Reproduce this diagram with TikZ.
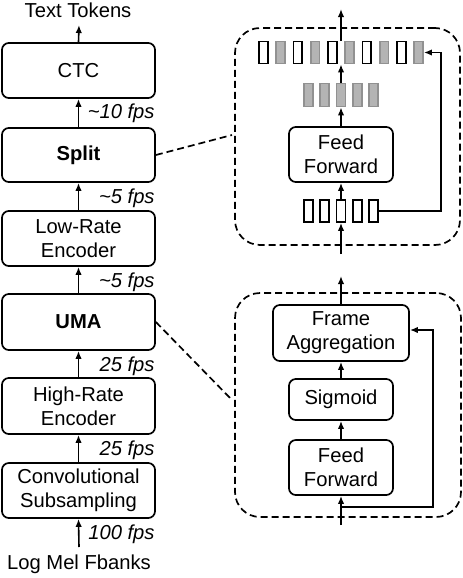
\documentclass[tikz,border=0pt]{standalone}
\usepackage{fontspec}
\setmainfont{Liberation Sans}
\usetikzlibrary{arrows.meta}
\definecolor{tokfill}{RGB}{180,180,180}
\definecolor{tokdraw}{RGB}{145,145,145}
\begin{document}
\begin{tikzpicture}[x=0.5pt,y=-0.5pt,
  every node/.style={font=\fontsize{10.1}{12}\selectfont},
  box/.style={draw, line width=0.85pt, rounded corners=3.4pt, align=center, inner sep=0pt},
  lbl/.style={anchor=east, inner sep=0pt, font=\fontsize{10.1}{12}\selectfont\itshape},
  panel/.style={draw, line width=0.85pt, dash pattern=on 3.5pt off 2pt, rounded corners=12.5pt, inner sep=0pt},
  link/.style={line width=0.85pt, dash pattern=on 3.5pt off 2pt},
  arr/.style={line width=0.8pt, -{Latex[length=4pt,width=3.2pt]}},
  wtok/.style={draw, line width=0.85pt, minimum width=4.4pt, minimum height=11pt, inner sep=0pt},
  gtok/.style={draw=tokdraw, fill=tokfill, line width=0.85pt, minimum width=4.4pt, minimum height=11pt, inner sep=0pt},
]
\useasboundingbox (0,0) rectangle (462,578);

% ---- left column ----
\node[inner sep=0pt] (tt) at (78,10) {Text Tokens};
\coordinate (ttin) at (79,25);
\node[box, minimum width=76.5pt, minimum height=27.5pt] (ctc) at (78.5,70.5) {CTC};
\node[box, minimum width=76.5pt, minimum height=27pt, font=\fontsize{10.1}{12}\selectfont\bfseries] (split) at (78.5,155) {Split};
\node[box, minimum width=76.5pt, minimum height=27.5pt] (low) at (78.5,238.5) {Low-Rate\\Encoder};
\node[box, minimum width=76.5pt, minimum height=28pt, font=\fontsize{10.1}{12}\selectfont\bfseries] (uma) at (78.5,322) {UMA};
\node[box, minimum width=76.5pt, minimum height=28pt] (high) at (78.5,406) {High-Rate\\Encoder};
\node[box, minimum width=76.5pt, minimum height=27.5pt] (conv) at (78.5,490.5) {Convolutional\\Subsampling};
\node[inner sep=0pt] (lm) at (79,564) {Log Mel Fbanks};
\coordinate (lmout) at (79,547);

\draw[arr] (ctc.north) -- (ttin);
\draw[arr] (split.north) -- (ctc.south);
\draw[arr] (low.north) -- (split.south);
\draw[arr] (uma.north) -- (low.south);
\draw[arr] (high.north) -- (uma.south);
\draw[arr] (conv.north) -- (high.south);
\draw[arr] (lmout) -- (conv.south);

\node[lbl] (l1) at (155,113) {\textasciitilde10 fps};
\node[lbl] (l2) at (155,198) {\textasciitilde5 fps};
\node[lbl] (l3) at (155,282) {\textasciitilde5 fps};
\node[lbl] (l4) at (155,366) {25 fps};
\node[lbl] (l5) at (155,450) {25 fps};
\node[lbl] (l6) at (155,534) {100 fps};

% ---- top panel (Split) ----
\node[panel, minimum width=112.5pt, minimum height=108.5pt] (tp) at (347.5,136.5) {};
\coordinate (tpin) at (232,135);
\draw[link] (split.east) -- (tpin);

\foreach \i in {1,...,10} {
  \pgfmathsetmacro{\cx}{341+(\i-5.5)*17.25}
  \ifodd\i
    \node[wtok] (t\i) at (\cx,52.5) {};
  \else
    \node[gtok] (t\i) at (\cx,52.5) {};
  \fi
}
\foreach \i in {1,...,5} {
  \pgfmathsetmacro{\cx}{341+(\i-3)*16.3}
  \node[gtok, minimum height=11.5pt] (m\i) at (\cx,95) {};
  \node[wtok] (b\i) at (\cx,211) {};
}
\node[box, minimum width=52pt, minimum height=27.5pt] (ff1) at (341,154.5) {Feed\\Forward};
\coordinate (topout) at (341,9);
\coordinate (topin) at (341,254);
\coordinate (tr) at (441,211);
\coordinate (trt) at (441,52.5);

\draw[arr] (t5.north -| topin) -- (topout);
\draw[arr] (m3.north) -- (t5.south -| m3.north);
\draw[arr] (ff1.north) -- (m3.south);
\draw[arr] (b3.north) -- (ff1.south);
\draw[arr] (topin) -- (b3.south);
\draw[arr] (b5.east) -- (tr) -- (trt) -- (t10.east);

% ---- bottom panel (UMA) ----
\node[panel, minimum width=113pt, minimum height=112pt] (bp) at (348,405) {};
\coordinate (bpin) at (232,400);
\draw[link] (uma.east) -- (bpin);

\node[box, minimum width=68pt, minimum height=28pt] (fa) at (341,333) {Frame\\Aggregation};
\node[box, minimum width=52pt, minimum height=20.5pt] (sig) at (341,399.5) {Sigmoid};
\node[box, minimum width=52pt, minimum height=27.5pt] (ff2) at (341,467.5) {Feed\\Forward};
\coordinate (botout) at (341,276);
\coordinate (botin) at (341,525);
\coordinate (br) at (341,507);
\coordinate (brr) at (433,507);
\coordinate (brt) at (433,330);

\draw[arr] (fa.north) -- (botout);
\draw[arr] (sig.north) -- (fa.south);
\draw[arr] (ff2.north) -- (sig.south);
\draw[arr] (botin) -- (ff2.south);
\draw[arr] (br) -- (brr) -- (brt) -- (fa.east |- brt);
\end{tikzpicture}
\end{document}
